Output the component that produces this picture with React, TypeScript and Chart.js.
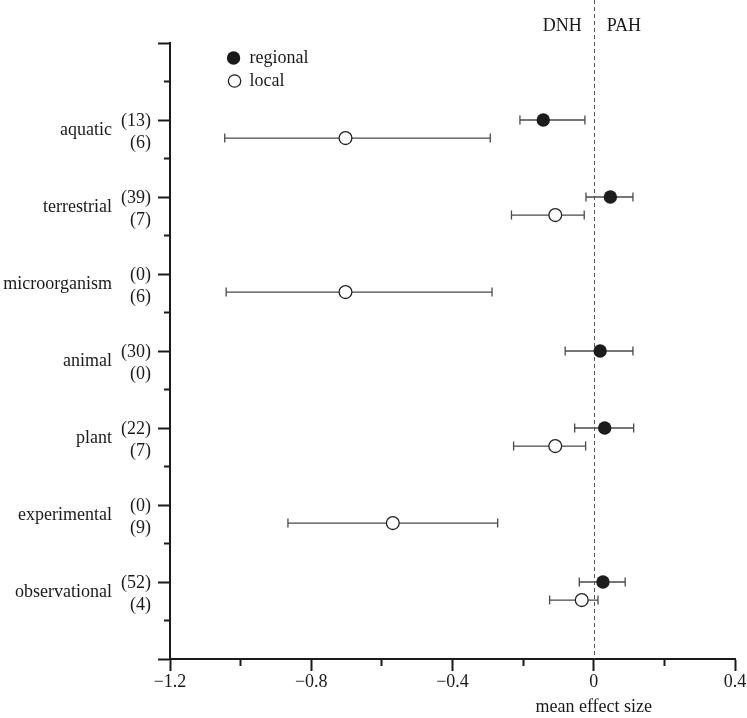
import React, { useEffect, useRef } from 'react';
import { Chart, registerables } from 'chart.js';

Chart.register(...registerables);

const W = 747;
const H = 718;
const FONT = '"Liberation Serif", "Times New Roman", serif';
const INK = '#1a1a1a';

// ---- data ----
const categories = ['aquatic', 'terrestrial', 'microorganism', 'animal', 'plant', 'experimental', 'observational'];
const rowPos = [14, 12, 10, 8, 6, 4, 2];
const regionalN = [13, 39, 0, 30, 22, 0, 52];
const localN = [6, 7, 6, 0, 7, 9, 4];
const regionalMean = [-0.143, 0.047, null, 0.018, 0.031, null, 0.026];
const regionalLo = [-0.209, -0.022, null, -0.081, -0.054, null, -0.041];
const regionalHi = [-0.025, 0.111, null, 0.111, 0.113, null, 0.089];
const localMean = [-0.703, -0.109, -0.703, null, -0.109, -0.569, -0.034];
const localLo = [-1.045, -0.233, -1.041, null, -0.227, -0.866, -0.125];
const localHi = [-0.293, -0.027, -0.288, null, -0.023, -0.272, 0.012];
const localOffset = 0.47;
const xLabelTicks = [-1.2, -0.8, -0.4, 0, 0.4];
const seriesNames = ['regional', 'local'];
const sideLabels = ['DNH', 'PAH'];
const xTitle = 'mean effect size';

function isLabelTick(v: number) {
  return xLabelTicks.some((t) => Math.abs(t - v) < 1e-6);
}
function fmt(v: number) {
  if (Math.abs(v) < 1e-9) return '0';
  return (v < 0 ? '\u2212' : '') + Math.abs(v).toFixed(1);
}

const overlay = {
  id: 'overlay',
  beforeDatasetsDraw(chart: any) {
    const { ctx, chartArea, scales } = chart;
    const xs = scales.x;
    const ys = scales.y;
    const x0 = Math.round(xs.getPixelForValue(0)) + 0.5;
    ctx.save();
    ctx.strokeStyle = '#555';
    ctx.lineWidth = 1;
    ctx.setLineDash([4, 3]);
    ctx.beginPath();
    ctx.moveTo(x0, 0);
    ctx.lineTo(x0, chartArea.bottom);
    ctx.stroke();
    ctx.setLineDash([]);

    ctx.strokeStyle = '#4a4a4a';
    ctx.lineWidth = 1.3;
    const bar = (lo: number | null, hi: number | null, v: number) => {
      if (lo == null || hi == null) return;
      const py = ys.getPixelForValue(v);
      const a = xs.getPixelForValue(lo);
      const b = xs.getPixelForValue(hi);
      ctx.beginPath();
      ctx.moveTo(a, py);
      ctx.lineTo(b, py);
      ctx.moveTo(a, py - 4.5);
      ctx.lineTo(a, py + 4.5);
      ctx.moveTo(b, py - 4.5);
      ctx.lineTo(b, py + 4.5);
      ctx.stroke();
    };
    categories.forEach((_, i) => {
      bar(regionalLo[i], regionalHi[i], rowPos[i]);
      bar(localLo[i], localHi[i], rowPos[i] - localOffset);
    });
    ctx.restore();
  },
  afterDraw(chart: any) {
    const { ctx, chartArea, scales } = chart;
    const xs = scales.x;
    const ys = scales.y;
    const x0 = xs.getPixelForValue(0);
    ctx.save();
    ctx.fillStyle = INK;
    ctx.font = `18px ${FONT}`;
    ctx.textBaseline = 'alphabetic';

    // DNH / PAH
    ctx.textAlign = 'right';
    ctx.fillText(sideLabels[0], x0 - 12, 31);
    ctx.textAlign = 'left';
    ctx.fillText(sideLabels[1], x0 + 13, 31);

    // category and count labels
    const yl = chartArea.left;
    categories.forEach((c, i) => {
      const py = ys.getPixelForValue(rowPos[i]);
      ctx.textAlign = 'right';
      ctx.fillText(`(${regionalN[i]})`, yl - 19, py + 5.5);
      ctx.fillText(`(${localN[i]})`, yl - 19, py + 28);
      ctx.fillText(c, yl - 58, py + 15);
    });

    // x title
    ctx.textAlign = 'center';
    ctx.fillText(xTitle, x0, chartArea.bottom + 53);

    // legend
    const lx = xs.getPixelForValue(-1.02);
    ctx.textAlign = 'left';
    ctx.beginPath();
    ctx.arc(lx, 58, 6.7, 0, Math.PI * 2);
    ctx.fill();
    ctx.beginPath();
    ctx.arc(lx + 1, 81, 6.2, 0, Math.PI * 2);
    ctx.fillStyle = '#fff';
    ctx.fill();
    ctx.strokeStyle = '#222';
    ctx.lineWidth = 1.3;
    ctx.stroke();
    ctx.fillStyle = INK;
    ctx.fillText(seriesNames[0], lx + 16, 63);
    ctx.fillText(seriesNames[1], lx + 16, 86);
    ctx.restore();
  },
};

export default function App() {
  const ref = useRef<HTMLCanvasElement>(null);
  useEffect(() => {
    const canvas = ref.current!;
    const regionalData = categories
      .map((_, i) => (regionalMean[i] == null ? null : { x: regionalMean[i] as number, y: rowPos[i] }))
      .filter(Boolean);
    const localData = categories
      .map((_, i) => (localMean[i] == null ? null : { x: localMean[i] as number, y: rowPos[i] - localOffset }))
      .filter(Boolean);

    const chart = new Chart(canvas, {
      type: 'scatter',
      data: {
        datasets: [
          {
            label: seriesNames[0],
            data: regionalData as any,
            pointRadius: 6.7,
            pointBackgroundColor: '#1c1c1c',
            pointBorderColor: '#1c1c1c',
            pointBorderWidth: 0,
          },
          {
            label: seriesNames[1],
            data: localData as any,
            pointRadius: 6.4,
            pointBackgroundColor: '#ffffff',
            pointBorderColor: '#222',
            pointBorderWidth: 1.3,
          },
        ],
      },
      options: {
        responsive: false,
        animation: false,
        devicePixelRatio: 1,
        layout: { padding: { left: 110, top: 43, right: 12, bottom: 0 } },
        plugins: { legend: { display: false }, tooltip: { enabled: false } },
        scales: {
          x: {
            type: 'linear',
            min: -1.2,
            max: 0.4,
            border: { display: true, color: INK, width: 2 },
            grid: {
              drawOnChartArea: false,
              drawTicks: true,
              tickLength: 12,
              tickWidth: 2,
              tickColor: INK,
              tickBorderDash: (ctx: any) => (isLabelTick(ctx.tick?.value ?? 0) ? [] : [6, 20]),
            } as any,
            ticks: {
              stepSize: 0.2,
              autoSkip: false,
              maxRotation: 0,
              padding: 0,
              color: INK,
              font: { family: FONT, size: 18 },
              callback: (v: any) => (isLabelTick(Number(v)) ? fmt(Number(v)) : ''),
            },
            afterFit: (s: any) => {
              s.height = H - 659;
              s.paddingLeft = 0;
              s.paddingRight = 0;
            },
          } as any,
          y: {
            type: 'linear',
            min: 0,
            max: 16,
            border: { display: true, color: INK, width: 2 },
            grid: {
              drawOnChartArea: false,
              drawTicks: true,
              tickLength: 12,
              tickWidth: 2,
              tickColor: INK,
              tickBorderDash: (ctx: any) => ((ctx.tick?.value ?? 0) % 2 === 0 ? [] : [6, 6]),
              tickBorderDashOffset: (ctx: any) => ((ctx.tick?.value ?? 0) % 2 === 0 ? 0 : 6),
            } as any,
            ticks: {
              stepSize: 1,
              autoSkip: false,
              callback: () => '',
            },
            afterFit: (s: any) => {
              s.width = 60;
              s.paddingTop = 0;
              s.paddingBottom = 0;
            },
          } as any,
        },
      },
      plugins: [overlay],
    });
    return () => chart.destroy();
  }, []);

  return (
    <div style={{ position: 'absolute', left: 0, top: 0, width: W, height: H, background: '#fff' }}>
      <canvas ref={ref} width={W} height={H} style={{ display: 'block', width: W, height: H }} />
    </div>
  );
}
